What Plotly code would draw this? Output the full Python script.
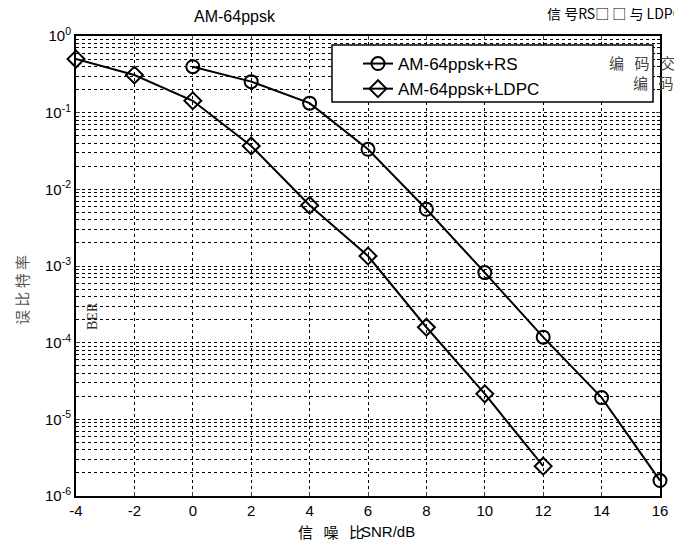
import plotly.graph_objects as go

snr_rs = [0, 2, 4, 6, 8, 10, 12, 14, 16]
ber_rs = [0.398, 0.254, 0.133, 0.0333, 0.0055, 8.2e-4, 1.18e-4, 1.92e-5, 1.59e-6]
snr_ldpc = [-4, -2, 0, 2, 4, 6, 8, 10, 12]
ber_ldpc = [0.50, 0.31, 0.143, 0.0368, 0.0062, 0.00135, 1.59e-4, 2.15e-5, 2.45e-6]
names = ["AM-64ppsk+RS", "AM-64ppsk+LDPC"]
x_ticks = [-4, -2, 0, 2, 4, 6, 8, 10, 12, 14, 16]
x_ticktext = ["-4", "-2", "0", "2", "4", "6", "8", "10", "12", "14", "16"]
y_tickvals = [1e-6, 1e-5, 1e-4, 1e-3, 1e-2, 1e-1, 1]
y_ticktext = ["10<sup>-6</sup>", "10<sup>-5</sup>", "10<sup>-4</sup>", "10<sup>-3</sup>",
              "10<sup>-2</sup>", "10<sup>-1</sup>", "10<sup>0</sup>"]

W, H = 682, 542
OFF = 8  # page body margin offset
SL, SR, ST, SB = 76, 660, 36, 496
L = SL - OFF
T = ST - OFF
R = W - (SR - OFF)
B = H - (SB - OFF)
pw = SR - SL
ph = SB - ST


def px(x):
    return (x - SL) / pw


def py(y):
    return (SB - y) / ph


fig = go.Figure()
fig.add_trace(go.Scatter(x=snr_rs, y=ber_rs, name=names[0], mode="lines+markers",
                         line=dict(color="black", width=2),
                         marker=dict(symbol="circle-open", size=13, color="black", line=dict(width=2)),
                         cliponaxis=False))
fig.add_trace(go.Scatter(x=snr_ldpc, y=ber_ldpc, name=names[1], mode="lines+markers",
                         line=dict(color="black", width=2),
                         marker=dict(symbol="diamond-open", size=13, color="black", line=dict(width=2)),
                         cliponaxis=False))

axis_font = dict(family="Arial, Liberation Sans", size=15, color="black")
fig.update_xaxes(range=[-4, 16], tickvals=x_ticks, ticktext=x_ticktext, ticks="inside", ticklen=4,
                 showline=True, linecolor="black", linewidth=2, mirror="ticks",
                 showgrid=True, gridcolor="black", griddash="dot", gridwidth=1,
                 zeroline=False, tickfont=axis_font)
fig.update_yaxes(type="log", range=[-6, 0], tickvals=y_tickvals, ticktext=y_ticktext,
                 ticks="inside", ticklen=4,
                 showline=True, linecolor="black", linewidth=2, mirror="ticks",
                 showgrid=True, gridcolor="black", griddash="dot", gridwidth=1,
                 minor=dict(dtick="D1", showgrid=True, gridcolor="black", griddash="dot",
                            gridwidth=1, ticks="inside", ticklen=3, tickcolor="black"),
                 zeroline=False, tickfont=axis_font)

cjk = "Noto Sans CJK SC"
gap = "\u2002\u2009"

fig.update_layout(
    width=W, height=H,
    margin=dict(l=L, r=R, t=T, b=B, pad=0),
    paper_bgcolor="white", plot_bgcolor="white",
    showlegend=True,
    legend=dict(x=px(358), y=py(46), xanchor="left", yanchor="top",
                bgcolor="rgba(0,0,0,0)", borderwidth=0,
                font=dict(family="Arial, Liberation Sans", size=17, color="black"),
                tracegroupgap=0),
    shapes=[
        dict(type="rect", xref="paper", yref="paper", x0=px(332), x1=px(653), y0=py(102), y1=py(45),
             fillcolor="white", line=dict(color="black", width=1.5), layer="above"),
    ],
    annotations=[
        dict(text="AM-64ppsk", xref="paper", yref="paper", x=px(235), y=py(17),
             showarrow=False, xanchor="center", yanchor="middle",
             font=dict(family="Arial, Liberation Sans", size=16, color="black")),
        dict(text="信 号RS□ □ 与 LDPC码", xref="paper", yref="paper", x=px(545),
             y=py(13), showarrow=False, xanchor="left", yanchor="middle",
             font=dict(family=cjk + ", Arial", size=14, color="black")),
        dict(text="编" + gap + "码" + gap + "交", xref="paper", yref="paper", x=px(607),
             y=py(62), showarrow=False, xanchor="left", yanchor="middle",
             font=dict(family=cjk, size=15, color="#444444")),
        dict(text="编" + gap + "码", xref="paper", yref="paper", x=px(631),
             y=py(82), showarrow=False, xanchor="left", yanchor="middle",
             font=dict(family=cjk, size=15, color="#444444")),
        dict(text="误 比 特 率", xref="paper", yref="paper", x=px(21),
             y=py(290), showarrow=False, xanchor="center", yanchor="middle",
             textangle=-90,
             font=dict(family=cjk, size=15, color="#555555")),
        dict(text="BER", xref="paper", yref="paper", x=px(92),
             y=py(316), showarrow=False, xanchor="center", yanchor="middle",
             textangle=-90,
             font=dict(family="Liberation Serif, DejaVu Serif", size=14, color="#333333")),
        dict(text="信" + gap + "噪" + gap + "比", xref="paper", yref="paper", x=px(366),
             y=py(531), showarrow=False, xanchor="right", yanchor="middle",
             font=dict(family=cjk, size=15, color="black")),
        dict(text="SNR/dB", xref="paper", yref="paper", x=px(359),
             y=py(531), showarrow=False, xanchor="left", yanchor="middle",
             font=dict(family="Arial, Liberation Sans", size=15, color="black")),
    ],
)

fig.write_html("out.html")
